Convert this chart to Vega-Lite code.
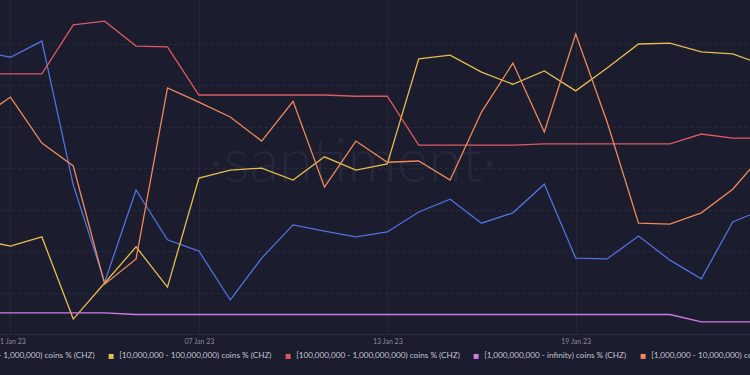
{
  "$schema": "https://vega.github.io/schema/vega-lite/v6.json",
  "width": 750,
  "height": 334,
  "autosize": {"type": "none"},
  "padding": {"top": 0, "left": 0, "right": 0, "bottom": 41},
  "background": "#1b1c2d",
  "config": {"view": {"stroke": null}, "font": "Lato"},
  "datasets": {
    "chz": [
      {"date": "2022-12-31", "s1": 68.2, "s2": 22.7, "s3": 62.7, "s4": 5.1, "s5": 51.8},
      {"date": "2023-01-01", "s1": 66.7, "s2": 21.2, "s3": 62.7, "s4": 5.1, "s5": 57.1},
      {"date": "2023-01-02", "s1": 70.6, "s2": 23.4, "s3": 62.7, "s4": 5.1, "s5": 46.0},
      {"date": "2023-01-03", "s1": 35.9, "s2": 3.6, "s3": 74.5, "s4": 5.1, "s5": 40.5},
      {"date": "2023-01-04", "s1": 12.5, "s2": 12.3, "s3": 75.4, "s4": 5.1, "s5": 12.0},
      {"date": "2023-01-05", "s1": 34.7, "s2": 21.0, "s3": 69.4, "s4": 4.7, "s5": 18.1},
      {"date": "2023-01-06", "s1": 22.7, "s2": 11.3, "s3": 69.2, "s4": 4.7, "s5": 59.3},
      {"date": "2023-01-07", "s1": 20.0, "s2": 37.6, "s3": 57.6, "s4": 4.7, "s5": 55.9},
      {"date": "2023-01-08", "s1": 8.2, "s2": 39.5, "s3": 57.6, "s4": 4.7, "s5": 52.3},
      {"date": "2023-01-09", "s1": 18.3, "s2": 40.0, "s3": 57.6, "s4": 4.7, "s5": 46.5},
      {"date": "2023-01-10", "s1": 26.3, "s2": 37.1, "s3": 57.6, "s4": 4.7, "s5": 56.1},
      {"date": "2023-01-11", "s1": 24.8, "s2": 42.7, "s3": 57.6, "s4": 4.7, "s5": 35.4},
      {"date": "2023-01-12", "s1": 23.4, "s2": 39.5, "s3": 57.3, "s4": 4.7, "s5": 46.5},
      {"date": "2023-01-13", "s1": 24.6, "s2": 41.0, "s3": 57.3, "s4": 4.7, "s5": 41.4},
      {"date": "2023-01-14", "s1": 29.4, "s2": 66.3, "s3": 45.5, "s4": 4.7, "s5": 41.7},
      {"date": "2023-01-15", "s1": 32.5, "s2": 67.2, "s3": 45.5, "s4": 4.7, "s5": 37.1},
      {"date": "2023-01-16", "s1": 26.7, "s2": 63.1, "s3": 45.5, "s4": 4.7, "s5": 53.5},
      {"date": "2023-01-17", "s1": 29.2, "s2": 60.2, "s3": 45.5, "s4": 4.7, "s5": 65.3},
      {"date": "2023-01-18", "s1": 36.1, "s2": 63.4, "s3": 45.8, "s4": 4.7, "s5": 48.7},
      {"date": "2023-01-19", "s1": 18.3, "s2": 58.6, "s3": 45.8, "s4": 4.7, "s5": 72.3},
      {"date": "2023-01-20", "s1": 18.1, "s2": 64.1, "s3": 45.8, "s4": 4.7, "s5": 51.1},
      {"date": "2023-01-21", "s1": 23.6, "s2": 69.9, "s3": 45.8, "s4": 4.7, "s5": 26.7},
      {"date": "2023-01-22", "s1": 17.8, "s2": 70.1, "s3": 45.8, "s4": 4.7, "s5": 26.5},
      {"date": "2023-01-23", "s1": 13.3, "s2": 68.0, "s3": 48.2, "s4": 2.9, "s5": 29.2},
      {"date": "2023-01-24", "s1": 27.0, "s2": 67.5, "s3": 47.2, "s4": 2.9, "s5": 34.9},
      {"date": "2023-01-25", "s1": 30.1, "s2": 64.8, "s3": 47.2, "s4": 2.9, "s5": 43.6}
    ]
  },
  "layer": [
    {
      "data": {"values": [{}]},
      "mark": {"type": "text", "text": "·santiment·", "font": "Lato", "fontWeight": 300, "fontSize": 61, "color": "#26283b", "baseline": "middle", "align": "center"},
      "encoding": {
        "x": {"datum": {"year": 2023, "month": 1, "date": 11, "hours": 21, "minutes": 48, "utc": true}, "type": "temporal"},
        "y": {"datum": 41, "type": "quantitative"}
      }
    },
    {
      "data": {"name": "chz"},
      "transform": [{"fold": ["s1", "s2", "s3", "s4", "s5"], "as": ["series", "value"]}],
      "mark": {"type": "line", "clip": true, "strokeWidth": 1.3},
      "encoding": {
        "x": {
          "field": "date",
          "type": "temporal",
          "scale": {
            "type": "utc",
            "domain": [
              {"year": 2022, "month": 12, "date": 31, "hours": 16, "utc": true},
              {"year": 2023, "month": 1, "date": 24, "hours": 13, "minutes": 12, "utc": true}
            ]
          },
          "axis": {
            "values": [
              {"year": 2023, "month": 1, "date": 1, "utc": true},
              {"year": 2023, "month": 1, "date": 7, "utc": true},
              {"year": 2023, "month": 1, "date": 13, "utc": true},
              {"year": 2023, "month": 1, "date": 19, "utc": true}
            ],
            "format": "%d %b %y",
            "title": null,
            "labelFontSize": 7,
            "labelColor": "#8a8c9c",
            "labelFlush": false,
            "labelPadding": 3,
            "ticks": false,
            "domainColor": "#2b2d40",
            "grid": true,
            "gridColor": "#24263a"
          }
        },
        "y": {
          "field": "value",
          "type": "quantitative",
          "scale": {"domain": [0, 80.5], "nice": false, "zero": false},
          "axis": {
            "values": [10, 20, 30, 40, 50, 60, 70],
            "labels": false,
            "ticks": false,
            "domain": false,
            "title": null,
            "grid": true,
            "gridColor": "#2a2c40",
            "gridDash": [3, 3]
          }
        },
        "color": {
          "field": "series",
          "type": "nominal",
          "scale": {
            "domain": ["s1", "s2", "s3", "s4", "s5"],
            "range": ["#5071df", "#e6bd4f", "#dc5962", "#d07ce4", "#ee8a5a"]
          },
          "legend": {
            "orient": "none",
            "legendX": -49,
            "legendY": 352,
            "direction": "horizontal",
            "columns": 5,
            "title": null,
            "symbolType": "square",
            "symbolSize": 25,
            "symbolStrokeWidth": 0,
            "labelFontSize": 8.2,
            "labelColor": "#c4c5d0",
            "labelOffset": 4,
            "columnPadding": 12,
            "labelLimit": 400,
            "labelExpr": "datum.label == 's1' ? '[100,000 - 1,000,000) coins % (CHZ)' : datum.label == 's2' ? '[10,000,000 - 100,000,000) coins % (CHZ)' : datum.label == 's3' ? '[100,000,000 - 1,000,000,000) coins % (CHZ)' : datum.label == 's4' ? '[1,000,000,000 - infinity) coins % (CHZ)' : '[1,000,000 - 10,000,000) coins % (CHZ)'",
            "encode": {"symbols": {"update": {"fill": {"scale": "color", "field": "value"}}}}
          }
        }
      }
    }
  ]
}
